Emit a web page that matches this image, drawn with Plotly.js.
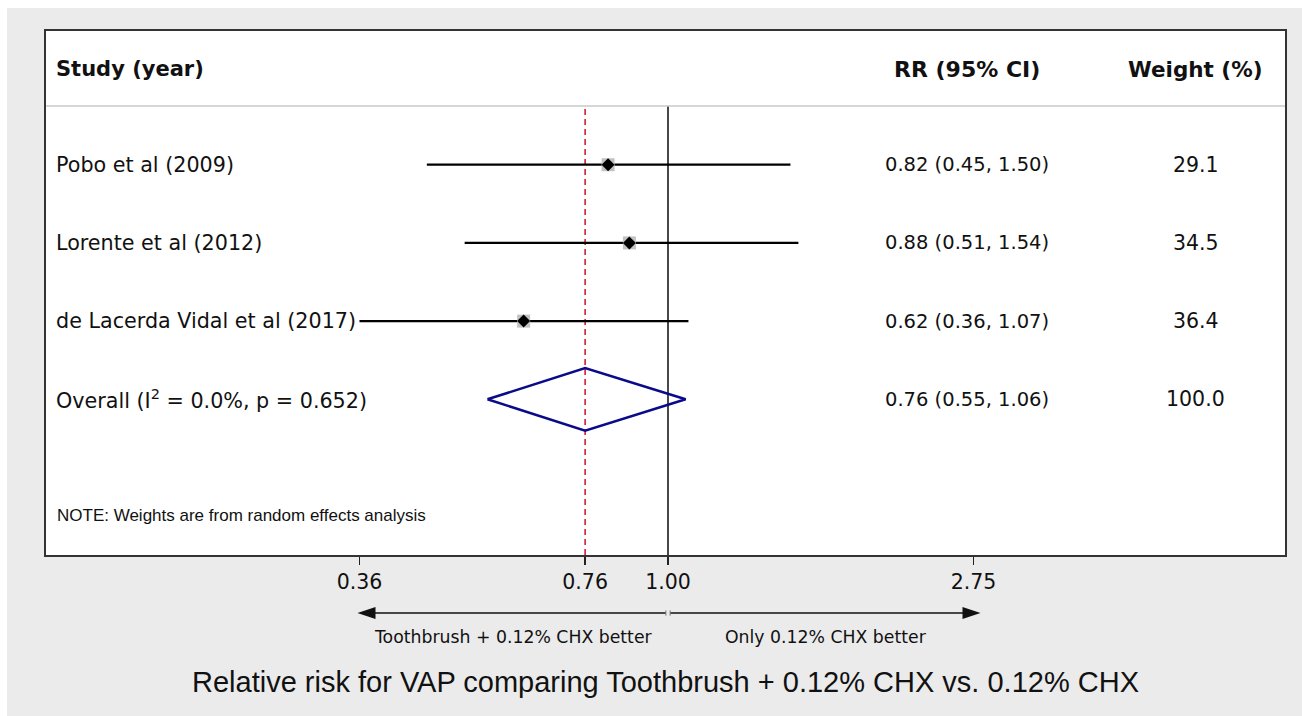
<!DOCTYPE html>
<html>
<head>
<meta charset="utf-8">
<script src="https://cdn.plot.ly/plotly-3.0.1.min.js"></script>
<style>
  html, body { margin: 0; padding: 0; background: #ffffff; }
  #chart { position: absolute; left: 7px; top: 8px; width: 1295px; height: 708px; }
</style>
</head>
<body>
<div id="chart"></div>
<script>
// ---- data ----
var studies = ['Pobo et al (2009)', 'Lorente et al (2012)', 'de Lacerda Vidal et al (2017)'];
var rr      = [0.82, 0.88, 0.62];
var ciLow   = [0.45, 0.51, 0.36];
var ciHigh  = [1.50, 1.54, 1.07];
var weights = [29.1, 34.5, 36.4];

var overallRR = 0.76;
var overallLow = 0.55;
var overallHigh = 1.06;
var overallWeight = 100.0;
var overallI2 = '0.0%';
var overallP = '0.652';

var tickVals = [0.36, 0.76, 1.00, 2.75];
var tickText = ['0.36', '0.76', '1.00', '2.75'];

var headerStudy = 'Study (year)';
var headerRR = 'RR (95% CI)';
var headerWeight = 'Weight (%)';
var noteText = 'NOTE: Weights are from random effects analysis';
var leftFavour = 'Toothbrush + 0.12% CHX better';
var rightFavour = 'Only 0.12% CHX better';
var chartTitle = 'Relative risk for VAP comparing Toothbrush + 0.12% CHX vs. 0.12% CHX';

// ---- layout helpers ----
var n = studies.length;
var rowY = studies.map(function (s, i) { return n + 1 - i; }); // 4,3,2
var overallY = 1;
var headerLineY = 4.751;
var headerTextY = 5.224;
var noteY = -0.48;
var yMin = -0.991, yMax = 5.710;

var verdana = 'Verdana, "DejaVu Sans", sans-serif';
var arial = 'Arial, "Liberation Sans", Helvetica, sans-serif';

// CI lines
var ciX = [], ciY = [];
for (var i = 0; i < n; i++) {
  ciX.push(ciLow[i], ciHigh[i], null);
  ciY.push(rowY[i], rowY[i], null);
}

var traces = [
  { type: 'scatter', mode: 'lines', x: [1, 1], y: [yMin, headerLineY],
    line: { color: '#1a1a1a', width: 1.6 }, hoverinfo: 'skip' },
  { type: 'scatter', mode: 'lines', x: [overallRR, overallRR], y: [yMin, headerLineY],
    line: { color: '#cc1f33', width: 1.6, dash: '6px,4px' }, hoverinfo: 'skip' },
  { type: 'scatter', mode: 'lines', x: ciX, y: ciY,
    line: { color: '#000', width: 2.2 }, hoverinfo: 'skip' },
  { type: 'scatter', mode: 'markers', x: rr, y: rowY,
    marker: { symbol: 'square', size: 13, color: '#c2c2c2', line: { width: 0 } }, hoverinfo: 'skip' },
  { type: 'scatter', mode: 'markers', x: rr, y: rowY,
    marker: { symbol: 'diamond', size: 10, color: '#000', line: { width: 0 } }, hoverinfo: 'skip' },
  { type: 'scatter', mode: 'lines',
    x: [overallLow, overallRR, overallHigh, overallRR, overallLow],
    y: [overallY, overallY + 0.4, overallY, overallY - 0.4, overallY],
    line: { color: '#0a0a8a', width: 2.5 }, hoverinfo: 'skip' }
];

var ann = [];
function addText(txt, x, xref, y, xanchor, size, font, bold) {
  ann.push({ text: bold ? '<b>' + txt + '</b>' : txt, x: x, xref: xref, y: y, yref: 'y',
    xanchor: xanchor, yanchor: 'middle', showarrow: false,
    font: { family: font, size: size, color: '#111' } });
}
var labelX = 0.0065, rrX = 0.6756, wX = 0.928;
// header
addText(headerStudy, labelX, 'paper', headerTextY, 'left', 21, verdana, true);
addText(headerRR, 0.7433, 'paper', headerTextY, 'center', 22, verdana, true);
addText(headerWeight, wX, 'paper', headerTextY, 'center', 21.5, verdana, true);
// rows
for (var j = 0; j < n; j++) {
  addText(studies[j], labelX, 'paper', rowY[j], 'left', 20.7, verdana, false);
  addText(rr[j].toFixed(2) + ' (' + ciLow[j].toFixed(2) + ', ' + ciHigh[j].toFixed(2) + ')',
    rrX, 'paper', rowY[j], 'left', 19.5, verdana, false);
  addText(weights[j].toFixed(1), wX, 'paper', rowY[j], 'center', 20.5, verdana, false);
}
addText('Overall (I<sup>2</sup> = ' + overallI2 + ', p = ' + overallP + ')', labelX, 'paper', overallY, 'left', 20.7, verdana, false);
addText(overallRR.toFixed(2) + ' (' + overallLow.toFixed(2) + ', ' + overallHigh.toFixed(2) + ')',
  rrX, 'paper', overallY, 'left', 19.5, verdana, false);
addText(overallWeight.toFixed(1), wX, 'paper', overallY, 'center', 20.5, verdana, false);
addText(noteText, 0.0073, 'paper', noteY, 'left', 17, arial, false);

// favour labels
var arrowY = -0.1107;
ann.push({ text: leftFavour, x: 0.3773, xref: 'paper', y: -0.1565, yref: 'paper',
  xanchor: 'center', yanchor: 'middle', showarrow: false,
  font: { family: verdana, size: 17.3, color: '#111' } });
ann.push({ text: rightFavour, x: 0.6296, xref: 'paper', y: -0.1565, yref: 'paper',
  xanchor: 'center', yanchor: 'middle', showarrow: false,
  font: { family: verdana, size: 17.3, color: '#111' } });

// favour arrows drawn as shapes (shapes on log axes take data values)
var gapL = 0.993, gapR = 1.007;
var shapes = [
  { type: 'line', xref: 'paper', yref: 'y', x0: 0, x1: 1, y0: headerLineY, y1: headerLineY,
    line: { color: '#c8c8c8', width: 1.5 } },
  { type: 'line', xref: 'x', yref: 'paper', x0: gapL, x1: tickVals[0] * 1.03, y0: arrowY, y1: arrowY,
    line: { color: '#111', width: 1.5 } },
  { type: 'line', xref: 'x', yref: 'paper', x0: gapR, x1: tickVals[3] * 1.0, y0: arrowY, y1: arrowY,
    line: { color: '#111', width: 1.5 } },
  { type: 'line', xref: 'x', yref: 'paper', x0: gapL, x1: gapL, y0: arrowY - 0.005, y1: arrowY + 0.005,
    line: { color: '#777', width: 1 } },
  { type: 'line', xref: 'x', yref: 'paper', x0: gapR, x1: gapR, y0: arrowY - 0.005, y1: arrowY + 0.005,
    line: { color: '#777', width: 1 } },
  { type: 'path', xref: 'x', yref: 'paper', xsizemode: 'pixel', ysizemode: 'pixel',
    xanchor: tickVals[0], yanchor: arrowY, path: 'M-2,0 L16,6 L16,-6 Z',
    fillcolor: '#111', line: { width: 0 } },
  { type: 'path', xref: 'x', yref: 'paper', xsizemode: 'pixel', ysizemode: 'pixel',
    xanchor: tickVals[3], yanchor: arrowY, path: 'M7,0 L-11,6 L-11,-6 Z',
    fillcolor: '#111', line: { width: 0 } }
];

var layout = {
  width: 1295, height: 708,
  margin: { l: 39, r: 17, t: 23, b: 161, pad: 0 },
  paper_bgcolor: '#ebebeb', plot_bgcolor: '#ffffff',
  showlegend: false, hovermode: false,
  title: { text: chartTitle, x: 0.5, xref: 'paper', xanchor: 'center',
    y: 1 - 674 / 708, yref: 'container', yanchor: 'middle',
    font: { family: arial, size: 29, color: '#111' } },
  xaxis: {
    type: 'log', range: [-0.8945, 0.8873],
    tickmode: 'array', tickvals: tickVals, ticktext: tickText,
    ticks: 'outside', ticklen: 8, tickwidth: 1.5, tickcolor: '#222',
    showline: true, mirror: true, linecolor: '#333', linewidth: 1.6,
    showgrid: false, zeroline: false,
    tickfont: { family: verdana, size: 20.5, color: '#111' }
  },
  yaxis: {
    range: [yMin, yMax], showticklabels: false, ticks: '',
    showline: true, mirror: true, linecolor: '#333', linewidth: 1.6,
    showgrid: false, zeroline: false
  },
  shapes: shapes,
  annotations: ann
};

Plotly.newPlot('chart', traces, layout, { staticPlot: true, displayModeBar: false });
</script>
</body>
</html>
